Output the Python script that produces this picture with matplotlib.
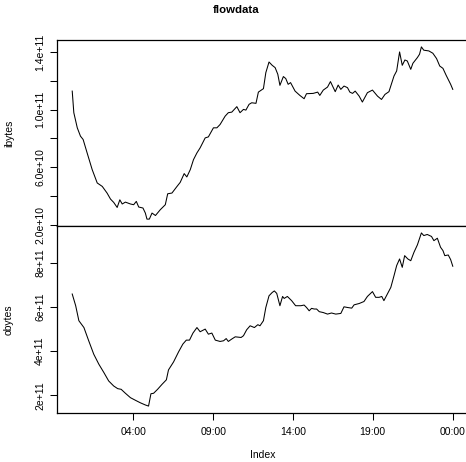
import matplotlib
matplotlib.use("Agg")
import matplotlib.pyplot as plt

plt.rcParams['font.family'] = ['Liberation Sans', 'DejaVu Sans']

# time of each reading, minutes after midnight of the first day
ibytes_minutes = [10, 16, 29, 41, 51, 66, 85, 104, 123, 141, 154, 166, 179, 189, 198, 210,
                  229, 241, 251, 260, 276, 285, 291, 300, 310, 323, 341, 360, 369, 385, 404,
                  416, 431, 441, 454, 466, 479, 491, 510, 522, 541, 554, 566, 585, 597, 610,
                  629, 641, 654, 663, 675, 685, 701, 710, 729, 738, 750, 762, 773, 783, 791,
                  804, 813, 822, 831, 848, 866, 882, 891, 916, 933, 941, 954, 970, 981, 999,
                  1010, 1020, 1032, 1045, 1054, 1064, 1074, 1089, 1101, 1120, 1139, 1158,
                  1173, 1186, 1201, 1220, 1230, 1241, 1251, 1261, 1270, 1283, 1291, 1308,
                  1316, 1323, 1332, 1351, 1366, 1380, 1392, 1404, 1416, 1433, 1441]
ibytes = [11.28e10, 9.78e10, 8.73e10, 8.15e10, 7.92e10, 6.99e10, 5.83e10, 4.90e10, 4.66e10,
          4.20e10, 3.78e10, 3.55e10, 3.20e10, 3.73e10, 3.44e10, 3.57e10, 3.44e10, 3.39e10,
          3.62e10, 3.23e10, 3.16e10, 2.81e10, 2.39e10, 2.39e10, 2.81e10, 2.64e10, 3.04e10,
          3.39e10, 4.15e10, 4.20e10, 4.66e10, 4.94e10, 5.55e10, 5.32e10, 5.83e10, 6.52e10,
          6.99e10, 7.34e10, 8.03e10, 8.10e10, 8.73e10, 8.73e10, 8.96e10, 9.54e10, 9.78e10,
          9.82e10, 10.20e10, 9.78e10, 10.01e10, 9.96e10, 10.36e10, 10.47e10, 10.43e10,
          11.21e10, 11.45e10, 12.56e10, 13.30e10, 13.07e10, 12.91e10, 12.45e10, 11.68e10,
          12.29e10, 12.15e10, 11.75e10, 11.87e10, 11.28e10, 10.98e10, 10.75e10, 11.10e10,
          11.12e10, 11.21e10, 10.98e10, 11.35e10, 11.56e10, 11.94e10, 11.24e10, 11.70e10,
          11.40e10, 11.63e10, 11.52e10, 11.21e10, 11.12e10, 11.28e10, 10.93e10, 10.52e10,
          11.17e10, 11.35e10, 10.93e10, 10.70e10, 11.05e10, 11.24e10, 12.33e10, 12.68e10,
          14.00e10, 13.07e10, 13.44e10, 13.37e10, 12.79e10, 13.21e10, 13.61e10, 13.84e10,
          14.35e10, 14.12e10, 14.07e10, 13.91e10, 13.54e10, 13.02e10, 12.86e10, 12.38e10,
          11.75e10, 11.40e10]

obytes_minutes = [10, 23, 35, 54, 72, 91, 110, 129, 147, 166, 181, 194, 210, 229, 248, 266,
                  285, 297, 306, 316, 331, 348, 364, 372, 391, 410, 426, 439, 451, 464, 479,
                  491, 510, 522, 535, 548, 566, 579, 589, 597, 610, 623, 645, 654, 666, 679,
                  695, 708, 716, 729, 738, 750, 762, 770, 779, 791, 801, 807, 819, 835, 850,
                  870, 882, 891, 901, 910, 920, 929, 939, 954, 970, 985, 1001, 1020, 1032,
                  1045, 1061, 1070, 1089, 1107, 1120, 1139, 1151, 1164, 1174, 1182, 1195,
                  1208, 1220, 1230, 1241, 1251, 1260, 1272, 1283, 1295, 1308, 1323, 1332,
                  1345, 1361, 1370, 1383, 1395, 1404, 1411, 1424, 1433, 1441]
obytes = [6.59e11, 6.06e11, 5.38e11, 5.07e11, 4.47e11, 3.86e11, 3.41e11, 3.03e11, 2.65e11,
          2.42e11, 2.30e11, 2.27e11, 2.09e11, 1.89e11, 1.77e11, 1.66e11, 1.56e11, 1.51e11,
          2.07e11, 2.09e11, 2.27e11, 2.50e11, 2.70e11, 3.15e11, 3.51e11, 3.97e11, 4.32e11,
          4.50e11, 4.50e11, 4.82e11, 5.07e11, 4.88e11, 5.00e11, 4.77e11, 4.82e11, 4.50e11,
          4.44e11, 4.47e11, 4.57e11, 4.44e11, 4.55e11, 4.65e11, 4.62e11, 4.70e11, 4.97e11,
          5.15e11, 5.07e11, 5.20e11, 5.15e11, 5.38e11, 5.98e11, 6.51e11, 6.66e11, 6.73e11,
          6.62e11, 6.06e11, 6.48e11, 6.39e11, 6.48e11, 6.29e11, 6.06e11, 6.06e11, 6.09e11,
          5.98e11, 5.83e11, 5.94e11, 5.91e11, 5.91e11, 5.79e11, 5.75e11, 5.68e11, 5.73e11,
          5.68e11, 5.71e11, 6.01e11, 5.98e11, 5.95e11, 6.10e11, 6.16e11, 6.25e11, 6.48e11,
          6.70e11, 6.44e11, 6.44e11, 6.48e11, 6.29e11, 6.59e11, 6.89e11, 7.42e11, 7.88e11,
          8.18e11, 7.80e11, 8.33e11, 8.18e11, 8.10e11, 8.48e11, 8.82e11, 9.36e11, 9.24e11,
          9.29e11, 9.20e11, 9.01e11, 9.12e11, 8.71e11, 8.56e11, 8.33e11, 8.36e11, 8.15e11,
          7.85e11]

time_ticks = [240, 540, 840, 1140, 1440]
time_labels = ['04:00', '09:00', '14:00', '19:00', '00:00']

ibytes_ticks = [2e10, 4e10, 6e10, 8e10, 10e10, 12e10, 14e10]
ibytes_labels = ['2.0e+10', '', '6.0e+10', '', '1.0e+11', '', '1.4e+11']
obytes_ticks = [2e11, 4e11, 6e11, 8e11]
obytes_labels = ['2e+11', '4e+11', '6e+11', '8e+11']

W, H = 466, 462
fig = plt.figure(figsize=(W / 100, H / 100), dpi=100)
ax1 = fig.add_axes([57 / W, 1 - 226 / H, 411 / W, 186 / H])
ax2 = fig.add_axes([57 / W, 1 - 413 / H, 411 / W, 187 / H], sharex=ax1)

ax1.plot(ibytes_minutes, ibytes, color='black', lw=0.75)
ax2.plot(obytes_minutes, obytes, color='black', lw=0.75)

for ax, ticks, labels, name in [(ax1, ibytes_ticks, ibytes_labels, 'ibytes'),
                                (ax2, obytes_ticks, obytes_labels, 'obytes')]:
    ax.margins(x=0.04, y=0.04)
    ax.set_yticks(ticks)
    ax.set_yticklabels(labels, rotation=90, va='center')
    ax.tick_params(axis='y', length=5, width=0.75, pad=3.5, labelsize=7.5)
    ax.set_ylabel(name, fontsize=7.5)
    ax.yaxis.set_label_coords(-43 / 411, 0.5)
    ax.spines['right'].set_visible(False)
    for s in ['top', 'bottom', 'left']:
        ax.spines[s].set_linewidth(0.9)

ax2.set_xticks(time_ticks)
ax2.set_xticklabels(time_labels)
ax2.tick_params(axis='x', length=5, width=0.75, pad=5, labelsize=7.5)
ax1.tick_params(axis='x', bottom=False, labelbottom=False)

fig.text(236 / W, 1 - 10 / H, 'flowdata', ha='center', va='center',
         fontsize=8.2, fontweight='bold')
fig.text(263 / W, 1 - 455 / H, 'Index', ha='center', va='center', fontsize=7.5)

fig.savefig('out.png', dpi=100)
